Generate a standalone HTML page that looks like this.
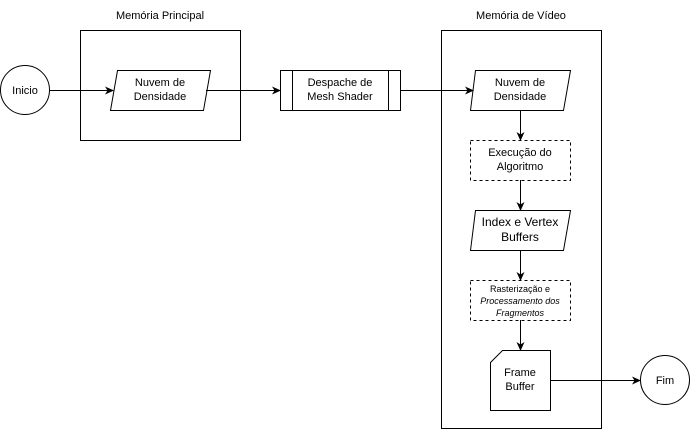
<!DOCTYPE html>
<html><head><meta charset="utf-8"><style>body{margin:0;background:#fff}</style></head><body>
<svg width="691" height="431" xmlns="http://www.w3.org/2000/svg" font-family="Liberation Sans, Arial, sans-serif" font-size="11" fill="none" stroke="#000">
<defs><marker id="a" markerWidth="10" markerHeight="10" refX="8" refY="5" orient="auto" markerUnits="userSpaceOnUse"><path d="M0,1 L9,5 L0,9 L2.5,5 Z" fill="#000" stroke="none"/></marker></defs>
<rect x="80.5" y="30.5" width="160" height="110"/>
<rect x="441.5" y="30.5" width="160" height="398"/>
<circle cx="25" cy="90" r="24.5"/>
<circle cx="665" cy="380" r="24.5"/>
<path d="M117.5,70.5 H210.5 L203.5,110.5 H110.5 Z"/>
<rect x="280.5" y="70.5" width="120" height="40"/>
<path d="M292.5,70.5 V110.5 M388.5,70.5 V110.5"/>
<path d="M475.5,70.5 H570.5 L563.5,110.5 H470.5 Z"/>
<rect x="470.5" y="140.5" width="100" height="40" stroke-dasharray="3,3"/>
<path d="M475.5,210.5 H570.5 L563.5,250.5 H470.5 Z"/>
<rect x="470.5" y="280.5" width="100" height="40" stroke-dasharray="3,3"/>
<path d="M502.5,350.5 H550.5 V410.5 H490.5 V362.5 Z"/>
<g marker-end="url(#a)">
<path d="M50,90.5 H113"/><path d="M206,90.5 H280"/><path d="M400,90.5 H473"/>
<path d="M520.5,110 V140"/><path d="M520.5,180 V210"/><path d="M520.5,250 V280"/><path d="M520.5,320 V350"/>
<path d="M550,380.5 H640"/>
</g>
<g fill="#000" stroke="none" text-anchor="middle">
<text x="160" y="19">Memória Principal</text>
<text x="521" y="19">Memória de Vídeo</text>
<text x="25" y="94">Inicio</text>
<text x="665" y="384">Fim</text>
<text x="160" y="86">Nuvem de</text><text x="160" y="100">Densidade</text>
<text x="340" y="86">Despache de</text><text x="340" y="100">Mesh Shader</text>
<text x="520" y="86">Nuvem de</text><text x="520" y="100">Densidade</text>
<text x="520" y="156">Execução do</text><text x="520" y="170">Algoritmo</text>
<g font-size="12"><text x="520" y="226">Index e Vertex</text><text x="520" y="241">Buffers</text></g>
<g font-size="9"><text x="520" y="292">Rasterização e</text><text x="520" y="304" font-style="italic">Processamento dos</text><text x="520" y="316" font-style="italic">Fragmentos</text></g>
<text x="520" y="376">Frame</text><text x="520" y="390">Buffer</text>
</g>
</svg>
</body></html>
